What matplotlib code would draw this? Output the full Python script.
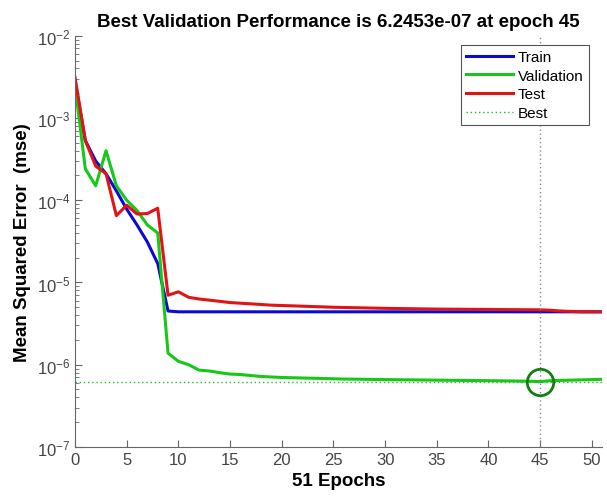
import numpy as np
import matplotlib
matplotlib.use("Agg")
import matplotlib.pyplot as plt
from matplotlib.ticker import LogLocator, NullFormatter

# ── Data ──────────────────────────────────────────────────────────────────────
epochs = list(range(52))

train = [2.8e-3, 5.3e-4, 3.0e-4, 2.1e-4, 1.3e-4, 7.8e-5, 5.0e-5, 3.1e-5, 1.7e-5, 4.5e-6,
         4.4e-6, 4.4e-6, 4.4e-6, 4.4e-6, 4.4e-6, 4.4e-6, 4.4e-6, 4.4e-6, 4.4e-6, 4.4e-6,
         4.4e-6, 4.4e-6, 4.4e-6, 4.4e-6, 4.4e-6, 4.4e-6, 4.4e-6, 4.4e-6, 4.4e-6, 4.4e-6,
         4.4e-6, 4.4e-6, 4.4e-6, 4.4e-6, 4.4e-6, 4.4e-6, 4.4e-6, 4.4e-6, 4.4e-6, 4.4e-6,
         4.4e-6, 4.4e-6, 4.4e-6, 4.4e-6, 4.4e-6, 4.4e-6, 4.4e-6, 4.4e-6, 4.4e-6, 4.4e-6,
         4.4e-6, 4.4e-6]

validation = [2.5e-3, 2.4e-4, 1.5e-4, 4.0e-4, 1.5e-4, 1.0e-4, 7.5e-5, 5.0e-5, 4.0e-5, 1.38e-6,
              1.1e-6, 1.0e-6, 8.6e-7, 8.4e-7, 8.0e-7, 7.7e-7, 7.6e-7, 7.4e-7, 7.2e-7, 7.1e-7,
              7.0e-7, 6.95e-7, 6.9e-7, 6.85e-7, 6.8e-7, 6.75e-7, 6.7e-7, 6.68e-7, 6.65e-7, 6.62e-7,
              6.6e-7, 6.58e-7, 6.56e-7, 6.54e-7, 6.52e-7, 6.5e-7, 6.48e-7, 6.46e-7, 6.44e-7, 6.42e-7,
              6.4e-7, 6.38e-7, 6.36e-7, 6.33e-7, 6.3e-7, 6.2453e-7, 6.4e-7, 6.45e-7, 6.5e-7, 6.55e-7,
              6.6e-7, 6.65e-7]

test = [3.1e-3, 5.3e-4, 2.6e-4, 2.1e-4, 6.5e-5, 8.7e-5, 6.8e-5, 6.9e-5, 8.0e-5, 7.0e-6,
        7.7e-6, 6.6e-6, 6.3e-6, 6.1e-6, 5.9e-6, 5.7e-6, 5.6e-6, 5.5e-6, 5.4e-6, 5.3e-6,
        5.25e-6, 5.2e-6, 5.15e-6, 5.1e-6, 5.05e-6, 5.0e-6, 4.97e-6, 4.94e-6, 4.91e-6, 4.88e-6,
        4.85e-6, 4.83e-6, 4.81e-6, 4.79e-6, 4.77e-6, 4.75e-6, 4.74e-6, 4.73e-6, 4.72e-6, 4.71e-6,
        4.7e-6, 4.69e-6, 4.68e-6, 4.67e-6, 4.66e-6, 4.65e-6, 4.6e-6, 4.5e-6, 4.45e-6, 4.4e-6,
        4.4e-6, 4.4e-6]

best_epoch = 45
best_perf = 6.2453e-7

# ── Plot ──────────────────────────────────────────────────────────────────────
plt.rcParams["font.family"] = ["Liberation Sans", "DejaVu Sans"]

fig = plt.figure(figsize=(6.07, 5.02), dpi=100)
ax = fig.add_axes([0.1236, 0.1076, 0.8684, 0.8192])

ax.plot(epochs, train, color="#0a0ad2", lw=2.2, label="Train")
ax.plot(epochs, validation, color="#18c818", lw=2.2, label="Validation")
ax.plot(epochs, test, color="#e01414", lw=2.2, label="Test")
ax.axhline(best_perf, color="#22bb22", lw=1, ls=(0, (1, 2)), label="Best")
ax.axvline(best_epoch, color="#888888", lw=1, ls=(0, (1, 2)))
ax.plot([best_epoch], [best_perf], marker="o", ms=19, mfc="none",
        mec="#0f7f0f", mew=2)

ax.set_yscale("log")
ax.set_xlim(0, 51)
ax.set_ylim(1e-7, 1e-2)
ax.set_xticks(range(0, 51, 5))
ax.yaxis.set_major_locator(LogLocator(base=10, numticks=10))
ax.yaxis.set_minor_locator(LogLocator(base=10, subs=np.arange(2, 10), numticks=20))
ax.yaxis.set_minor_formatter(NullFormatter())

for s in ("top", "right"):
    ax.spines[s].set_visible(False)
for s in ("left", "bottom"):
    ax.spines[s].set_color("#666666")
ax.tick_params(which="both", direction="in", colors="#666666",
               labelcolor="#444444", labelsize=12)
ax.tick_params(which="major", length=5)
ax.tick_params(which="minor", length=3)

ax.set_title("Best Validation Performance is 6.2453e-07 at epoch 45",
             fontsize=13.5, fontweight="bold", pad=7)
ax.set_xlabel("51 Epochs", fontsize=13.5, fontweight="bold", labelpad=4)
ax.set_ylabel("Mean Squared Error  (mse)", fontsize=13.5, fontweight="bold", labelpad=4)

leg = ax.legend(loc="upper right", bbox_to_anchor=(0.975, 0.978), borderaxespad=0,
                fontsize=11, fancybox=False, framealpha=1, edgecolor="#555555",
                handlelength=3.1, borderpad=0.35, labelspacing=0.3, handletextpad=0.3)
leg.get_frame().set_linewidth(0.8)

fig.savefig("out.png", dpi=100)
plt.close(fig)
